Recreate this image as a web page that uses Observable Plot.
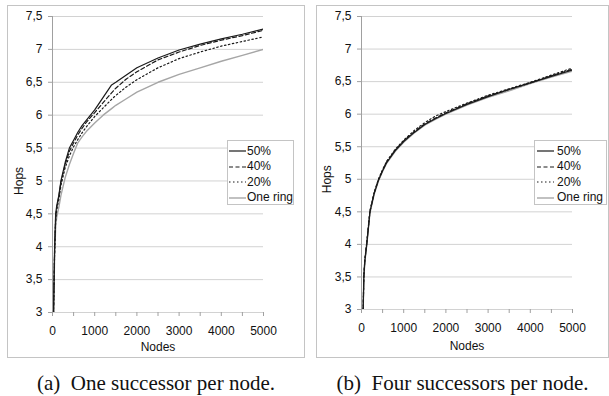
<!DOCTYPE html>
<html>
<head>
<meta charset="utf-8">
<script src="https://cdn.jsdelivr.net/npm/d3@7"></script>
<script src="https://cdn.jsdelivr.net/npm/@observablehq/plot@0.6"></script>
<style>
  html, body { margin: 0; padding: 0; background: #fff; }
  #root { position: relative; width: 609px; height: 396px; overflow: hidden; font-family: "Liberation Sans", Arial, sans-serif; }
  .panel { position: absolute; border: 1px solid #c4c4c4; box-sizing: border-box; background: #fff; }
  .panel svg { display: block; }
  .legend { position: absolute; border: 1px solid #c4c4c4; background: #fff; box-sizing: border-box; font-size: 12px; color: #111; }
  .legend .row { position: absolute; left: 0; height: 15px; display: flex; align-items: center; white-space: nowrap; }
  .legend .row svg { display: block; }
  .caption { position: absolute; font-family: "Liberation Serif", "Times New Roman", serif; font-size: 21px; color: #111; white-space: pre; line-height: 24px; text-align: center; }
</style>
</head>
<body>
<div id="root"></div>
<script>
// ---------- data ----------
const seriesNames = ["50%", "40%", "20%", "One ring"];
const yTicks = [3, 3.5, 4, 4.5, 5, 5.5, 6, 6.5, 7, 7.5];
const xTicks = [0, 500, 1000, 1500, 2000, 2500, 3000, 3500, 4000, 4500, 5000];
const captionA = "(a)  One successor per node.";
const captionB = "(b)  Four successors per node.";

// Panel (a): one successor per node
const nodesA = [25, 50, 75, 100, 150, 200, 300, 400, 500, 600, 700, 800, 1000, 1200, 1400, 1500, 1750, 2000, 2500, 3000, 3500, 4000, 4500, 5000];
const a50   = [3.0, 4.0, 4.5, 4.62, 4.78, 5.0, 5.28, 5.5, 5.62, 5.74, 5.84, 5.92, 6.08, 6.27, 6.46, 6.5, 6.61, 6.72, 6.87, 6.99, 7.08, 7.16, 7.23, 7.31];
const a40   = [3.0, 3.95, 4.45, 4.6, 4.76, 4.98, 5.25, 5.45, 5.58, 5.7, 5.8, 5.89, 6.04, 6.19, 6.34, 6.41, 6.55, 6.66, 6.84, 6.96, 7.06, 7.14, 7.21, 7.29];
const a20   = [3.0, 3.9, 4.4, 4.56, 4.72, 4.93, 5.2, 5.38, 5.52, 5.63, 5.73, 5.82, 5.98, 6.11, 6.24, 6.3, 6.43, 6.54, 6.72, 6.86, 6.96, 7.05, 7.12, 7.19];
const aRing = [3.0, 3.85, 4.3, 4.45, 4.6, 4.78, 5.05, 5.25, 5.42, 5.58, 5.67, 5.75, 5.88, 6.0, 6.1, 6.15, 6.25, 6.35, 6.5, 6.62, 6.72, 6.82, 6.91, 7.0];

// Panel (b): four successors per node
const nodesB = [40, 55, 80, 125, 200, 300, 400, 500, 600, 800, 1000, 1250, 1500, 1750, 2000, 2500, 3000, 3500, 4000, 4500, 5000];
const b50   = [3.0, 3.5, 3.75, 4.0, 4.5, 4.78, 4.98, 5.13, 5.26, 5.44, 5.58, 5.72, 5.84, 5.93, 6.01, 6.15, 6.27, 6.38, 6.48, 6.58, 6.68];
const b40   = [3.0, 3.5, 3.76, 4.02, 4.5, 4.79, 4.99, 5.14, 5.27, 5.45, 5.59, 5.73, 5.85, 5.94, 6.02, 6.16, 6.28, 6.38, 6.48, 6.59, 6.69];
const b20   = [3.0, 3.52, 3.78, 4.03, 4.52, 4.8, 5.0, 5.15, 5.28, 5.46, 5.6, 5.75, 5.87, 5.97, 6.04, 6.17, 6.29, 6.39, 6.49, 6.6, 6.71];
const bRing = [3.0, 3.48, 3.74, 3.99, 4.48, 4.77, 4.97, 5.12, 5.25, 5.43, 5.57, 5.71, 5.83, 5.92, 6.0, 6.14, 6.26, 6.36, 6.47, 6.57, 6.66];

// ---------- styles ----------
const styles = {
  "50%":      {stroke: "#1a1a1a", strokeWidth: 1.2, strokeDasharray: null},
  "40%":      {stroke: "#1a1a1a", strokeWidth: 1.2, strokeDasharray: "4,2.5"},
  "20%":      {stroke: "#1a1a1a", strokeWidth: 1.2, strokeDasharray: "1.5,2.5"},
  "One ring": {stroke: "#a6a6a6", strokeWidth: 1.4, strokeDasharray: null}
};
const drawOrder = ["One ring", "20%", "40%", "50%"];

function rows(nodes, series) {
  const out = {};
  seriesNames.forEach((name, k) => {
    out[name] = nodes.map((n, i) => ({nodes: n, hops: series[k][i]}));
  });
  return out;
}

function makePlot(cfg) {
  const data = rows(cfg.nodes, cfg.series);
  const lines = drawOrder.map(name => Plot.line(data[name], {
    x: "nodes", y: "hops",
    stroke: styles[name].stroke,
    strokeWidth: styles[name].strokeWidth,
    strokeDasharray: styles[name].strokeDasharray,
    clip: true
  }));
  return Plot.plot({
    width: cfg.width, height: cfg.height,
    marginLeft: cfg.ml, marginRight: cfg.mr, marginTop: cfg.mt, marginBottom: cfg.mb,
    style: {fontFamily: "'Liberation Sans', Arial, sans-serif", fontSize: "12px", color: "#111", background: "transparent"},
    x: {domain: [0, 5000]},
    y: {domain: [3, 7.5]},
    marks: [
      Plot.gridY(yTicks, {stroke: "#d2d2d2", strokeOpacity: 1}),
      Plot.ruleX([0], {stroke: "#a0a0a0"}),
      Plot.axisY(yTicks, {tickSize: 4, tickPadding: 6, stroke: "#a0a0a0", fill: "#111", label: null,
        tickFormat: d => String(d).replace(".", ",")}),
      Plot.axisX(xTicks, {tickSize: 4, tickPadding: 10, stroke: "#a0a0a0", fill: "#111", label: null,
        tickFormat: d => d % 1000 === 0 ? String(d) : ""}),
      Plot.text(["Nodes"], {frameAnchor: "bottom", lineAnchor: "middle", dy: cfg.nodesDy, text: d => d, fill: "#111"}),
      Plot.text(["Hops"], {frameAnchor: "left", textAnchor: "middle", lineAnchor: "middle", y: () => 5, dx: cfg.hopsDx, rotate: -90, text: d => d, fill: "#111"}),
      ...lines
    ]
  });
}

const root = document.getElementById("root");

function addPanel(cfg) {
  const p = document.createElement("div");
  p.className = "panel";
  p.style.left = cfg.left + "px"; p.style.top = cfg.top + "px";
  p.style.width = cfg.width + "px"; p.style.height = cfg.height + "px";
  const plot = makePlot({...cfg, width: cfg.width - 2, height: cfg.height - 2});
  p.appendChild(plot);
  root.appendChild(p);

  // legend
  const lg = document.createElement("div");
  lg.className = "legend";
  lg.style.left = cfg.legend.left + "px"; lg.style.top = cfg.legend.top + "px";
  lg.style.width = cfg.legend.width + "px"; lg.style.height = cfg.legend.height + "px";
  seriesNames.forEach((name, i) => {
    const r = document.createElement("div");
    r.className = "row";
    r.style.top = (2 + i * 15.5) + "px";
    r.style.left = cfg.legend.pad + "px";
    const s = styles[name];
    r.innerHTML = `<svg width="17" height="15"><line x1="0" y1="8" x2="17" y2="8" stroke="${s.stroke}" stroke-width="${s.strokeWidth}" ${s.strokeDasharray ? `stroke-dasharray="${s.strokeDasharray}"` : ""}/></svg><span style="margin-left:${cfg.legend.gap}px">${name}</span>`;
    lg.appendChild(r);
  });
  root.appendChild(lg);

  const c = document.createElement("div");
  c.className = "caption";
  c.style.left = cfg.capLeft + "px"; c.style.width = cfg.capWidth + "px";
  c.style.top = "371px";
  c.textContent = cfg.caption;
  root.appendChild(c);
}

addPanel({
  left: 7, top: 5, width: 298, height: 353,
  ml: 44, mr: 41, mt: 10, mb: 45, hopsDx: -33, nodesDy: 35,
  nodes: nodesA, series: [a50, a40, a20, aRing],
  legend: {left: 227, top: 140, width: 67, height: 65, pad: 1, gap: 1},
  caption: captionA, capLeft: 7, capWidth: 298
});
addPanel({
  left: 316, top: 5, width: 293, height: 353,
  ml: 44, mr: 36, mt: 10, mb: 48, hopsDx: -34, nodesDy: 37,
  nodes: nodesB, series: [b50, b40, b20, bRing],
  legend: {left: 534, top: 140, width: 73, height: 65, pad: 2, gap: 3},
  caption: captionB, capLeft: 316, capWidth: 293
});
</script>
</body>
</html>
